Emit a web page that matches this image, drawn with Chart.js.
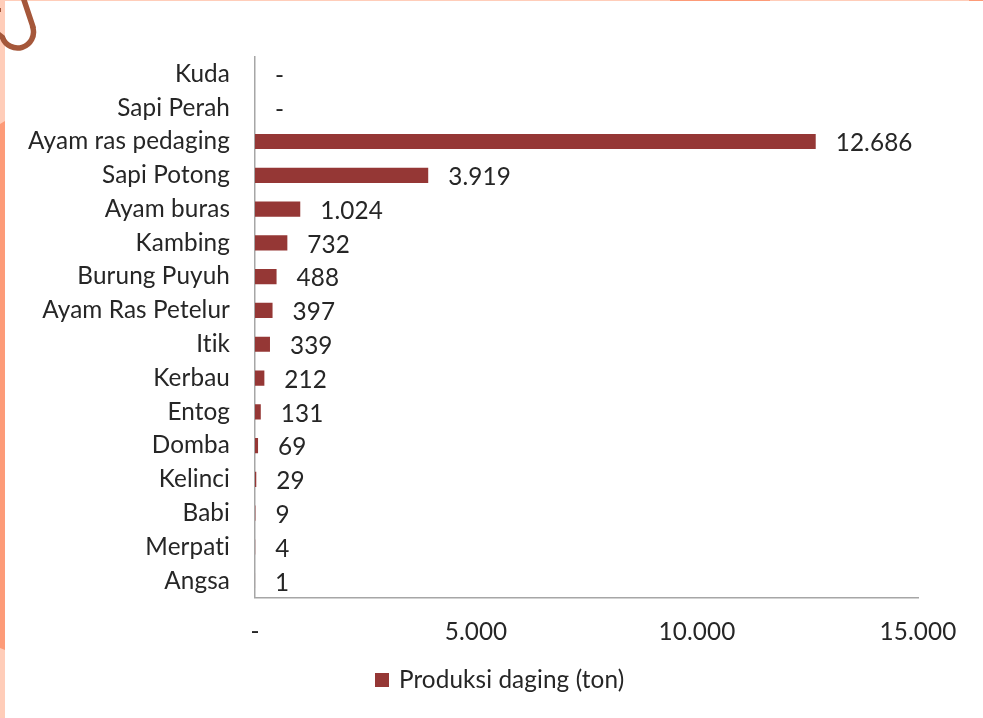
<!DOCTYPE html>
<html><head><meta charset="utf-8">
<style>
html,body{margin:0;padding:0;background:#fff;overflow:hidden}
#wrap{position:absolute;left:0;top:0;width:983px;height:718px}
</style>
<script src="https://cdn.jsdelivr.net/npm/chart.js@4"></script>
</head><body>
<div id="wrap"><canvas id="c" width="983" height="718"></canvas></div>
<script>
const categories=["Kuda","Sapi Perah","Ayam ras pedaging","Sapi Potong","Ayam buras","Kambing","Burung Puyuh","Ayam Ras Petelur","Itik","Kerbau","Entog","Domba","Kelinci","Babi","Merpati","Angsa"];
const produksi=[0,0,12686,3919,1024,732,488,397,339,212,131,69,29,9,4,1];
const xTicks=[0,5000,10000,15000];
const seriesName="Produksi daging (ton)";
const fontName="Lato, Carlito, sans-serif";
const fontSize=24.3;
const fmt=v=>v===0?"-":v.toLocaleString("de-DE");

const swatch=document.createElement("canvas");swatch.width=14;swatch.height=14;
const sg=swatch.getContext("2d");sg.fillStyle="#953735";sg.fillRect(0,0,14,14);

const frame={id:"frame",
 beforeUpdate(ch){ch.ctx.letterSpacing="0.1px";},
 afterLayout(ch){ch.legend.left+=41.5;ch.legend.right+=41.5;},
 beforeDraw(ch){const g=ch.ctx;g.letterSpacing="0.1px";g.save();
 g.fillStyle="#ffcdb9";g.fillRect(0,0,983,1);g.fillRect(0,0,5,718);
 g.fillStyle="#fd9b78";g.fillRect(670,0,100,1);g.fillRect(969,0,14,1);
 g.beginPath();g.moveTo(0,124);g.lineTo(5,121);g.lineTo(5,650);g.lineTo(0,648);g.closePath();g.fill();
 g.restore();},
 afterDraw(ch){const g=ch.ctx;g.save();g.strokeStyle="#a5573a";g.lineWidth=5.5;g.beginPath();
 g.moveTo(23,-3);g.lineTo(33,27);g.arc(17.5,32,16,-0.3,2.8);g.lineTo(-2,34);g.stroke();
 g.fillStyle="#a5573a";g.fillRect(0,8,1,4);
 g.restore();}};

const labels={id:"valueLabels",afterDatasetsDraw(ch){const g=ch.ctx,m=ch.getDatasetMeta(0),x=ch.scales.x;
 g.save();g.font=fontSize+"px "+fontName;g.fillStyle="#262626";g.textBaseline="middle";g.textAlign="left";
 m.data.forEach((b,i)=>{const v=produksi[i];g.fillText(fmt(v),x.getPixelForValue(v)+20,b.y+2);});
 g.restore();}};

new Chart(document.getElementById("c"),{type:"bar",
 data:{labels:categories,datasets:[{label:seriesName,data:produksi,backgroundColor:"#953735",borderWidth:0,barPercentage:0.45,categoryPercentage:1}]},
 plugins:[frame,labels],
 options:{indexAxis:"y",responsive:false,animation:false,
  layout:{padding:{left:0,right:65,top:57,bottom:16}},
  plugins:{tooltip:{enabled:false},
   legend:{display:true,position:"bottom",
    labels:{usePointStyle:true,pointStyle:swatch,pointStyleWidth:10,boxHeight:14,font:{family:fontName,size:fontSize},color:"#262626",padding:10}}},
  scales:{
   x:{min:0,max:15000,afterBuildTicks(a){a.ticks=xTicks.map(v=>({value:v}));},
      afterFit(a){a.height=60;},
      grid:{display:false,drawTicks:false},border:{color:"#a6a6a6",width:1.5},
      ticks:{callback:v=>fmt(v),font:{family:fontName,size:fontSize},color:"#262626",padding:20,maxRotation:0,autoSkip:false}},
   y:{afterFit(a){a.width=255;},
      grid:{display:false,drawTicks:false},border:{color:"#a6a6a6",width:1.5},
      ticks:{font:{family:fontName,size:fontSize},color:"#262626",padding:25,autoSkip:false}}
  }}});
</script></body></html>
